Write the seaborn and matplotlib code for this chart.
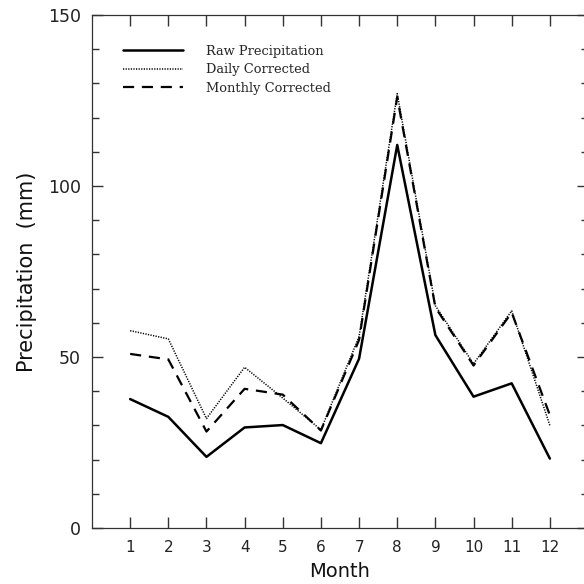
import numpy as np
import pandas as pd
import matplotlib
matplotlib.use("Agg")
import matplotlib.pyplot as plt
import seaborn as sns
from matplotlib.ticker import MultipleLocator

months = [1, 2, 3, 4, 5, 6, 7, 8, 9, 10, 11, 12]
raw_precip = [37.7, 32.5, 20.8, 29.4, 30.1, 24.8, 49.5, 112.0, 56.4, 38.4, 42.3, 20.3]
daily_corrected = [57.7, 55.3, 32.0, 47.0, 38.0, 28.7, 56.0, 127.0, 65.0, 48.0, 63.5, 30.0]
monthly_corrected = [50.9, 49.3, 28.2, 40.7, 39.0, 28.5, 55.0, 126.0, 64.5, 47.5, 63.0, 33.0]
series_names = ["Raw Precipitation", "Daily Corrected", "Monthly Corrected"]
x_tick_labels = ["1", "2", "3", "4", "5", "6", "7", "8", "9", "10", "11", "12"]

df = pd.DataFrame({
    "Month": months * 3,
    "Precip": raw_precip + daily_corrected + monthly_corrected,
    "Series": [series_names[0]] * 12 + [series_names[1]] * 12 + [series_names[2]] * 12,
})

sns.set_style("ticks")
plt.rcParams["font.family"] = ["DejaVu Sans"]

fig = plt.figure(figsize=(5.84, 5.84), dpi=100)
ax = fig.add_axes([92 / 584, 1 - 528 / 584, (588 - 92) / 584, (528 - 15) / 584])

styles = {
    series_names[0]: dict(linestyle="-", lw=1.8),
    series_names[1]: dict(linestyle=(0, (0.8, 0.9)), lw=1.1),
    series_names[2]: dict(linestyle=(0, (5, 3.5)), lw=1.6),
}
for name in series_names:
    sub = df[df["Series"] == name]
    sns.lineplot(data=sub, x="Month", y="Precip", ax=ax, color="black",
                 label=name, **styles[name])

ax.set_xlim(0, 13)
ax.set_ylim(0, 150)
ax.set_xticks(months)
ax.set_xticklabels(x_tick_labels)
ax.yaxis.set_major_locator(MultipleLocator(50))
ax.yaxis.set_minor_locator(MultipleLocator(10))
ax.tick_params(axis="both", which="both", direction="in", top=True, right=True,
               color="#333333", labelcolor="#222222")
ax.tick_params(axis="x", which="major", length=8, width=1, labelsize=11, pad=9)
ax.tick_params(axis="y", which="major", length=8, width=1, labelsize=12.5, pad=8)
ax.tick_params(axis="y", which="minor", length=5, width=1)
for sp in ax.spines.values():
    sp.set_linewidth(0.9)
    sp.set_color("#333333")
ax.spines["right"].set_visible(False)

ax.set_xlabel("Month", fontsize=14, labelpad=5, color="#111111")
ax.set_ylabel("Precipitation  (mm)", fontsize=15, labelpad=8, color="#111111")

leg = ax.legend(loc="upper left", bbox_to_anchor=(123 / 584, 1 - 45 / 584),
                bbox_transform=fig.transFigure, frameon=False, borderpad=0,
                borderaxespad=0, handlelength=4.6, handletextpad=1.75,
                labelspacing=0.42, prop={"family": "DejaVu Serif", "size": 9.4})

fig.savefig("out.png", dpi=100)
